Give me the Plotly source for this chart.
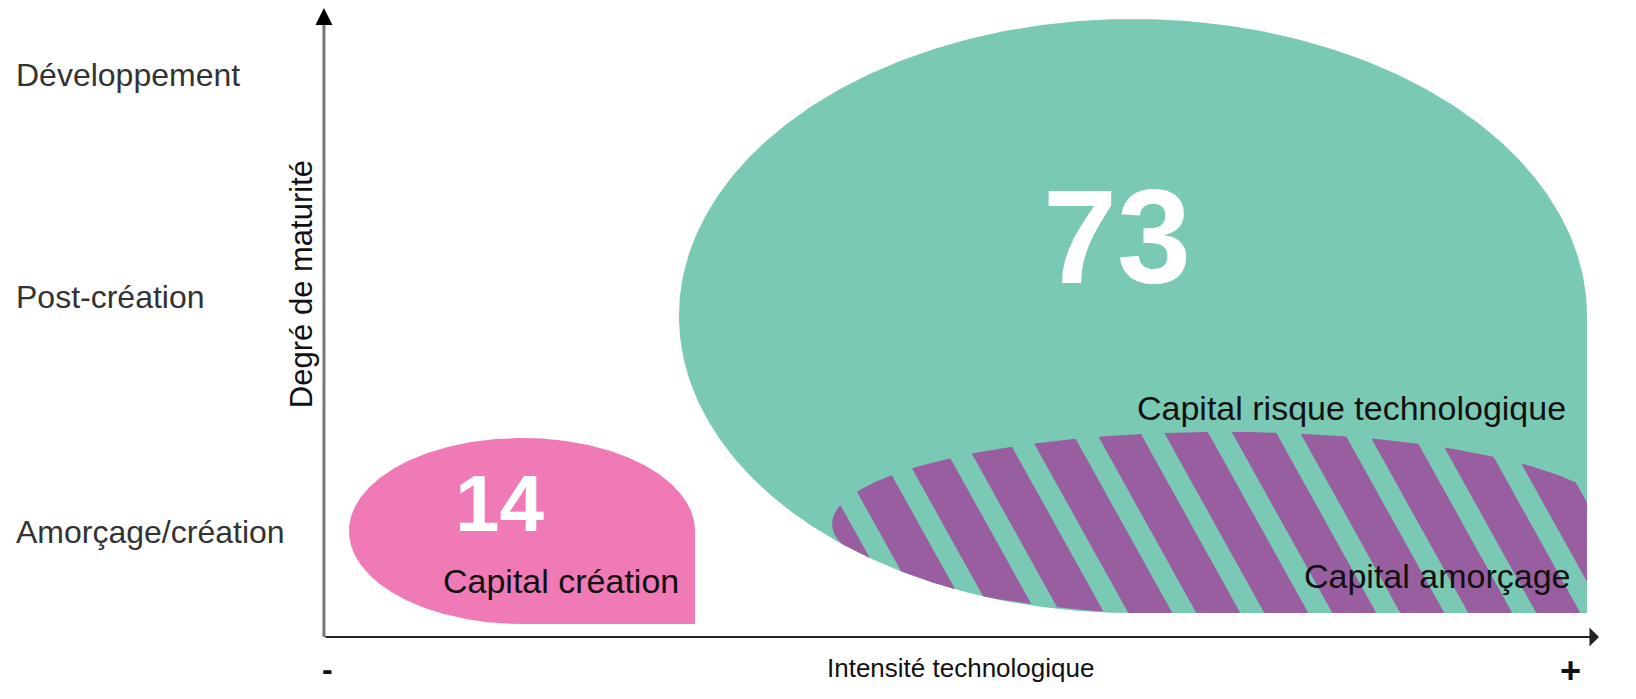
import numpy as np
import plotly.graph_objects as go

# ---------------- data ----------------
maturity_levels = ["Amorçage/création", "Post-création", "Développement"]
maturity_ticks = [16.7, 54.1, 89.4]          # position of each level on the maturity axis
segment_names = ["Capital création", "Capital risque technologique", "Capital amorçage"]
segment_counts = [14, 73]                     # number shown in création / risque technologique
x_title = "Intensité technologique"
y_title = "Degré de maturité"
x_ends = ["-", "+"]

# zone geometry (data units: intensité 0..100, maturité 0..100)
creation_zone = dict(cx=15.53, cy=16.85, rx=13.57, ry=14.79)
risque_zone = dict(cx=63.45, cy=51.03, rx=35.61, ry=47.22)
amorcage_zone = dict(cx=70.67, cy=17.97, rx=30.82, ry=14.63)

# ---------------- layout constants ----------------
PAGE_OFF = 8                       # default body margin of the html page
W, H = 1636 - PAGE_OFF, 699 - PAGE_OFF
XR = [-24.78, 102.90]
YR = [-9.86, 100.0]
SX = W / (XR[1] - XR[0])   # px per data unit
SY = H / (YR[1] - YR[0])

GREEN = "#7AC9B4"
PINK = "#EF7AB5"
PURPLE = "#985EA0"
FONT = "Liberation Sans, Arial, Helvetica, sans-serif"


def zone_polygon(z, n=400):
    """Ellipse whose lower-right quarter is squared off (CCW, y up)."""
    t = np.linspace(0, 1.5 * np.pi, n)
    xs = list(z["cx"] + z["rx"] * np.cos(t))
    ys = list(z["cy"] + z["ry"] * np.sin(t))
    xs.append(z["cx"] + z["rx"])
    ys.append(z["cy"] - z["ry"])
    return list(zip(xs, ys))


def clip_halfplane(poly, a, b, c):
    out = []
    n = len(poly)
    for i in range(n):
        P = poly[i]
        Q = poly[(i + 1) % n]
        fp = a * P[0] + b * P[1] + c
        fq = a * Q[0] + b * Q[1] + c
        if fp >= 0:
            out.append(P)
        if (fp >= 0) != (fq >= 0):
            t = fp / (fp - fq)
            out.append((P[0] + t * (Q[0] - P[0]), P[1] + t * (Q[1] - P[1])))
    return out


def clip_convex(poly, clip):
    m = len(clip)
    for i in range(m):
        A = clip[i]
        B = clip[(i + 1) % m]
        a = -(B[1] - A[1])
        b = B[0] - A[0]
        c = -(a * A[0] + b * A[1])
        poly = clip_halfplane(poly, a, b, c)
        if not poly:
            break
    return poly


green_poly = zone_polygon(risque_zone)
pink_poly = zone_polygon(creation_zone)
purple_poly = clip_convex(zone_polygon(amorcage_zone), green_poly)

# stripes (page space: slope, period, band width, phase point in px)
SLOPE = 1.8
PERIOD = 68.0
BAND = 44.0
PHASE_X, PHASE_Y = 1166.0, 436.0

# page coords: X = PAGE_OFF + SX*(x - XR0), Y = PAGE_OFF + SY*(YR1 - y)
# w = X - Y/SLOPE = a_w*x + b_w*y + C_w
a_w = SX
b_w = SY / SLOPE
C_w = PAGE_OFF - SX * XR[0] - (PAGE_OFF + SY * YR[1]) / SLOPE

w0 = PHASE_X - PHASE_Y / SLOPE
ws = [a_w * px + b_w * py + C_w for px, py in purple_poly]
kmin = int(np.floor((min(ws) - w0) / PERIOD)) - 1
kmax = int(np.ceil((max(ws) - w0) / PERIOD)) + 1

stripes = []
for k in range(kmin, kmax + 1):
    lo = w0 + k * PERIOD
    hi = lo + BAND
    p = clip_halfplane(purple_poly, a_w, b_w, C_w - lo)
    if p:
        p = clip_halfplane(p, -a_w, -b_w, hi - C_w)
    if p and len(p) >= 3:
        stripes.append(p)

fig = go.Figure()


def add_poly(poly, color):
    xs = [p[0] for p in poly] + [poly[0][0]]
    ys = [p[1] for p in poly] + [poly[0][1]]
    fig.add_trace(go.Scatter(x=xs, y=ys, mode="lines", fill="toself",
                             fillcolor=color, line=dict(width=0, color=color),
                             hoverinfo="skip", showlegend=False))


add_poly(green_poly, GREEN)
add_poly(pink_poly, PINK)
for s in stripes:
    add_poly(s, PURPLE)

annotations = []
# level labels
for lab, pos in zip(maturity_levels, maturity_ticks):
    annotations.append(dict(x=-24.3, y=pos, text=lab, showarrow=False,
                            xanchor="left", yanchor="middle",
                            font=dict(family=FONT, size=32, color="#333333")))
# axis titles
annotations.append(dict(x=-1.8, y=56.1, text=y_title, textangle=-90, showarrow=False,
                        xanchor="center", yanchor="middle",
                        font=dict(family=FONT, size=31, color="#111111")))
annotations.append(dict(x=49.9, y=-4.93, text=x_title, showarrow=False,
                        xanchor="center", yanchor="middle",
                        font=dict(family=FONT, size=26, color="#111111")))
annotations.append(dict(x=0.31, y=-5.1, text="<b>" + x_ends[0] + "</b>", showarrow=False,
                        xanchor="center", yanchor="middle",
                        font=dict(family=FONT, size=32, color="#111111")))
annotations.append(dict(x=97.73, y=-5.25, text="<b>" + x_ends[1] + "</b>", showarrow=False,
                        xanchor="center", yanchor="middle",
                        font=dict(family=FONT, size=36, color="#111111")))
# counts
annotations.append(dict(x=13.80, y=21.3, text="<b>%d</b>" % segment_counts[0], showarrow=False,
                        xanchor="center", yanchor="middle",
                        font=dict(family=FONT, size=80, color="white")))
annotations.append(dict(x=62.2, y=63.6, text="<b>%d</b>" % segment_counts[1], showarrow=False,
                        xanchor="center", yanchor="middle",
                        font=dict(family=FONT, size=133, color="white")))
# segment labels
seg_pos = [(18.59, 8.9), (80.6, 36.4), (87.29, 9.7)]
for name, (sx_, sy_) in zip(segment_names, seg_pos):
    annotations.append(dict(x=sx_, y=sy_, text=name, showarrow=False,
                            xanchor="center", yanchor="middle",
                            font=dict(family=FONT, size=34, color="#111111")))

# axes arrows
annotations.append(dict(x=100, y=0, ax=0, ay=0, xref="x", yref="y", axref="x", ayref="y",
                        text="", showarrow=True, arrowhead=1, arrowwidth=2, arrowsize=1.6,
                        arrowcolor="#222222", standoff=0, startstandoff=0))
annotations.append(dict(x=0, y=100, ax=0, ay=100 - 15 / SY, xref="x", yref="y", axref="x", ayref="y",
                        text="", showarrow=True, arrowhead=2, arrowwidth=2, arrowsize=1.7,
                        arrowcolor="#000000", standoff=0, startstandoff=0))

shapes = [dict(type="line", x0=0, y0=0, x1=0, y1=100 - 14 / SY, xref="x", yref="y",
               line=dict(color="#777777", width=3))]

fig.update_layout(
    width=W, height=H, autosize=False,
    margin=dict(l=0, r=0, t=0, b=0),
    paper_bgcolor="white", plot_bgcolor="white",
    xaxis=dict(range=XR, visible=False, fixedrange=True),
    yaxis=dict(range=YR, visible=False, fixedrange=True),
    annotations=annotations, shapes=shapes, showlegend=False,
)

fig.write_html("out.html")
